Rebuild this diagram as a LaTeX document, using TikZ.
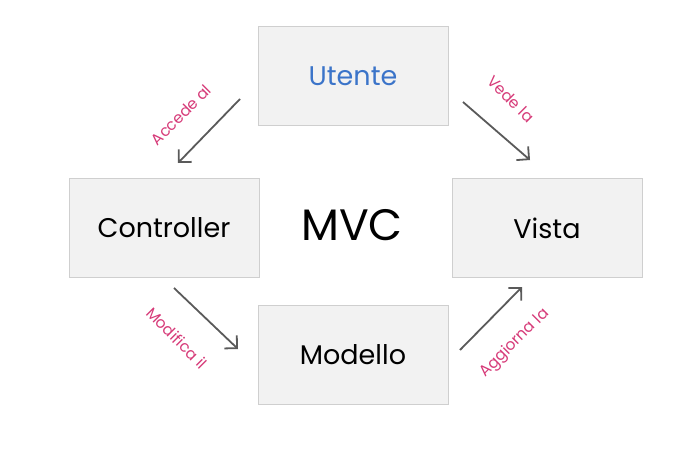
\documentclass[tikz,border=0pt]{standalone}
\usepackage{fontspec}
\setmainfont{Poppins}
\usetikzlibrary{arrows.meta}

\definecolor{boxfill}{HTML}{F2F2F2}
\definecolor{boxline}{HTML}{CFCFCF}
\definecolor{arrowgray}{HTML}{5A5A5A}
\definecolor{labelpink}{HTML}{D63A78}
\definecolor{userblue}{HTML}{3B74C9}

\begin{document}
\begin{tikzpicture}[
  x=1pt, y=-1pt,
  box/.style={rectangle, draw=boxline, fill=boxfill, minimum width=190pt,
    minimum height=99pt, inner sep=0pt, font=\fontsize{27}{32}\selectfont},
  flow/.style={-{Straight Barb[length=9pt,width=18pt]}, draw=arrowgray, line width=1.8pt},
  tag/.style={text=labelpink, font=\fontsize{15.5}{18}\selectfont, inner sep=1pt}
]
  \useasboundingbox (0,0) rectangle (690,450);
  \node[box, text=userblue] (user) at (353,76) {Utente};
  \node[box] (ctrl) at (164,228) {Controller};
  \node[box] (view) at (547,228) {Vista};
  \node[box] (model) at (353,355) {Modello};
  \node[font=\fontsize{44}{52}\selectfont] (mvc) at (352,225) {MVC};

  \coordinate (a1) at (240,99);  \coordinate (a2) at (178,163);
  \coordinate (b1) at (463,102); \coordinate (b2) at (530,160);
  \coordinate (c1) at (174,288); \coordinate (c2) at (238,349);
  \coordinate (d1) at (460,350); \coordinate (d2) at (522,287);

  \draw[flow] (a1) -- (a2);
  \draw[flow] (b1) -- (b2);
  \draw[flow] (c1) -- (c2);
  \draw[flow] (d1) -- (d2);

  \node[tag, rotate=45] (acc) at (181,115) {Accede al};
  \node[tag, rotate=-45] (vede) at (511,99) {Vede la};
  \node[tag, rotate=-45] (mod) at (177,338) {Modifica il};
  \node[tag, rotate=45] (agg) at (515,343) {Aggiorna la};
\end{tikzpicture}
\end{document}
